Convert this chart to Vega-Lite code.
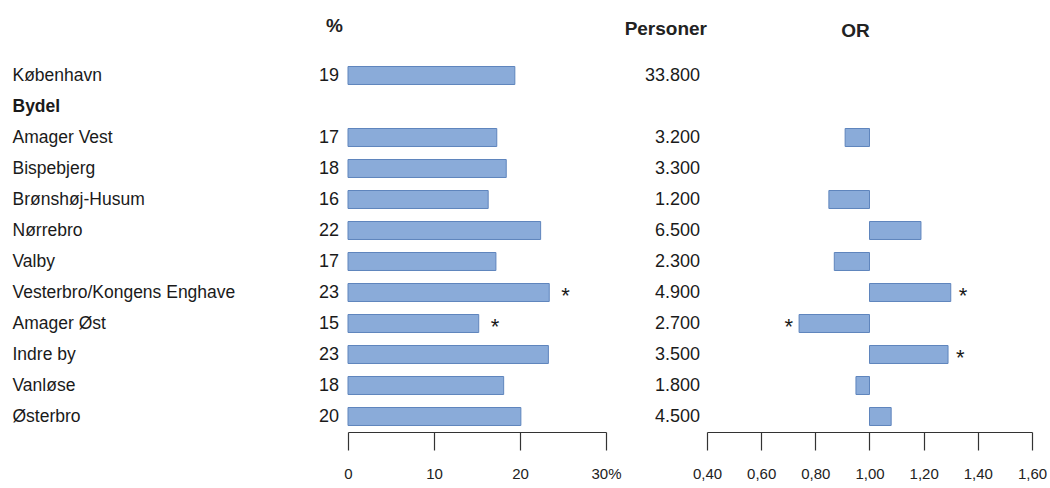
{
  "$schema": "https://vega.github.io/schema/vega-lite/v6.json",
  "background": "white",
  "padding": {"left": 12, "top": 17, "right": 3, "bottom": 0},
  "autosize": {"type": "pad"},
  "bounds": "flush",
  "spacing": 0,
  "config": {
    "view": {"stroke": null},
    "font": "Liberation Sans",
    "axis": {"grid": false, "labelFont": "Liberation Sans", "labelColor": "#222", "domainColor": "#333", "tickColor": "#333", "labelFlush": false},
    "title": {"font": "Liberation Sans", "fontSize": 19, "fontWeight": "bold", "color": "#222", "frame": "group", "baseline": "alphabetic"}
  },
  "data": {
    "values": [
      {"row": "København", "pct": 19.4, "pers": "33.800", "or": null, "sigPct": false, "sigOr": false},
      {"row": "Amager Vest", "pct": 17.3, "pers": "3.200", "or": 0.91, "sigPct": false, "sigOr": false},
      {"row": "Bispebjerg", "pct": 18.4, "pers": "3.300", "or": null, "sigPct": false, "sigOr": false},
      {"row": "Brønshøj-Husum", "pct": 16.3, "pers": "1.200", "or": 0.85, "sigPct": false, "sigOr": false},
      {"row": "Nørrebro", "pct": 22.4, "pers": "6.500", "or": 1.19, "sigPct": false, "sigOr": false},
      {"row": "Valby", "pct": 17.2, "pers": "2.300", "or": 0.87, "sigPct": false, "sigOr": false},
      {"row": "Vesterbro/Kongens Enghave", "pct": 23.4, "pers": "4.900", "or": 1.30, "sigPct": true, "sigOr": true},
      {"row": "Amager Øst", "pct": 15.2, "pers": "2.700", "or": 0.74, "sigPct": true, "sigOr": true},
      {"row": "Indre by", "pct": 23.3, "pers": "3.500", "or": 1.29, "sigPct": false, "sigOr": true},
      {"row": "Vanløse", "pct": 18.1, "pers": "1.800", "or": 0.95, "sigPct": false, "sigOr": false},
      {"row": "Østerbro", "pct": 20.1, "pers": "4.500", "or": 1.08, "sigPct": false, "sigOr": false}
    ]
  },
  "resolve": {"scale": {"x": "independent", "y": "shared"}},
  "hconcat": [
    {
      "width": 258,
      "height": 372,
      "title": {"text": "%", "anchor": "start", "dx": -22, "offset": 24},
      "encoding": {
        "y": {
          "field": "row", "type": "nominal", "sort": null,
          "scale": {"domain": ["København", "Bydel", "Amager Vest", "Bispebjerg", "Brønshøj-Husum", "Nørrebro", "Valby", "Vesterbro/Kongens Enghave", "Amager Øst", "Indre by", "Vanløse", "Østerbro"], "paddingInner": 0.42, "paddingOuter": 0.21},
          "axis": {"orient": "left", "title": null, "labelAlign": "left", "labelPadding": 336, "ticks": false, "domain": false, "labelLimit": 400, "labelFontSize": 17.5, "labelFont": "Liberation Sans", "labelColor": "#1a1a1a",
            "labelFontWeight": {"condition": {"test": "datum.value === 'Bydel'", "value": "bold"}, "value": "normal"}}
        }
      },
      "layer": [
        {
          "mark": {"type": "bar", "fill": "#8aabd9", "stroke": "#5f85bd", "strokeWidth": 1},
          "encoding": {
            "x": {"field": "pct", "type": "quantitative", "scale": {"domain": [0, 30], "nice": false},
              "axis": {"title": null, "values": [0, 10, 20, 30], "tickSize": 18, "labelPadding": 16, "labelFontSize": 15, "domainWidth": 1.2, "tickWidth": 1.2,
                "labelExpr": "datum.value == 30 ? '30%' : datum.label"}}
          }
        },
        {
          "mark": {"type": "text", "align": "right", "baseline": "middle", "dx": -9, "fontSize": 18, "color": "#1a1a1a"},
          "encoding": {
            "x": {"datum": 0, "type": "quantitative"},
            "text": {"field": "pct", "type": "quantitative", "format": ".0f"}
          }
        },
        {
          "transform": [{"filter": "datum.sigPct"}],
          "mark": {"type": "text", "align": "left", "baseline": "middle", "dx": 12, "dy": 3, "fontSize": 22, "color": "#1a1a1a", "text": "*"},
          "encoding": {
            "x": {"field": "pct", "type": "quantitative"}
          }
        }
      ]
    },
    {
      "width": 101,
      "height": 372,
      "title": {"text": "Personer", "anchor": "end", "offset": 21},
      "mark": {"type": "text", "align": "right", "baseline": "middle", "dx": -7, "fontSize": 18, "color": "#1a1a1a"},
      "encoding": {
        "y": {"field": "row", "type": "nominal", "sort": null, "axis": null},
        "x": {"value": "width"},
        "text": {"field": "pers", "type": "nominal"}
      }
    },
    {
      "width": 325,
      "height": 372,
      "title": {"text": "OR", "anchor": "middle", "dx": -14, "offset": 19},
      "transform": [{"filter": "datum.or != null"}],
      "encoding": {
        "y": {"field": "row", "type": "nominal", "sort": null, "axis": null}
      },
      "layer": [
        {
          "mark": {"type": "bar", "fill": "#8aabd9", "stroke": "#5f85bd", "strokeWidth": 1},
          "encoding": {
            "x": {"field": "or", "type": "quantitative", "scale": {"domain": [0.4, 1.6], "nice": false, "zero": false},
              "axis": {"title": null, "values": [0.4, 0.6, 0.8, 1.0, 1.2, 1.4, 1.6], "tickSize": 18, "labelPadding": 16, "labelFontSize": 15, "domainWidth": 1.2, "tickWidth": 1.2,
                "labelExpr": "replace(format(datum.value, '.2f'), '.', ',')"}},
            "x2": {"datum": 1}
          }
        },
        {
          "transform": [{"filter": "datum.sigOr && datum.or > 1"}],
          "mark": {"type": "text", "align": "left", "baseline": "middle", "dx": 8, "dy": 3, "fontSize": 22, "color": "#1a1a1a", "text": "*"},
          "encoding": {"x": {"field": "or", "type": "quantitative"}}
        },
        {
          "transform": [{"filter": "datum.sigOr && datum.or < 1"}],
          "mark": {"type": "text", "align": "right", "baseline": "middle", "dx": -6, "dy": 3, "fontSize": 22, "color": "#1a1a1a", "text": "*"},
          "encoding": {"x": {"field": "or", "type": "quantitative"}}
        }
      ]
    }
  ]
}
